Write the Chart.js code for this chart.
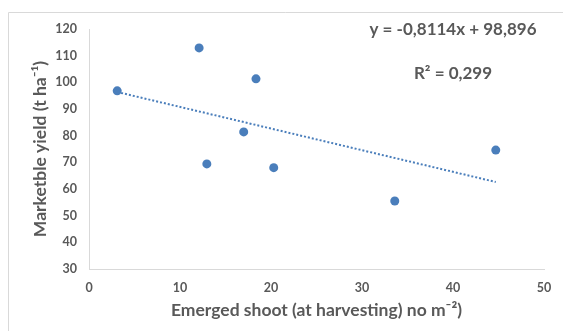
<!DOCTYPE html>
<html>
<head>
<meta charset="utf-8">
<script src="https://cdn.jsdelivr.net/npm/chart.js@4"></script>
<style>
  html, body { margin: 0; padding: 0; background: #fff; }
  #wrap { width: 563px; height: 331px; position: relative; }
</style>
</head>
<body>
<div id="wrap"><canvas id="yieldChart" width="563" height="331"></canvas></div>
<script>
// shoots emerged (no m-2) vs marketable yield (t ha-1)
const shootValues = [3.1, 12.1, 18.35, 17.0, 12.95, 20.3, 33.6, 44.7];
const yieldValues = [96.8, 112.9, 101.3, 81.4, 69.4, 68.0, 55.5, 74.6];
const xTicks = [0, 10, 20, 30, 40, 50];
const yTicks = [30, 40, 50, 60, 70, 80, 90, 100, 110, 120];
const trendSlope = -0.8114;
const trendIntercept = 98.896;
const equationText = 'y = -0,8114x + 98,896';
const r2Text = 'R\u00B2 = 0,299';

const blue = '#4A7EBB';
const grey = '#595959';
const axisGrey = '#D9D9D9';
const fontFamily = 'Lato, "Open Sans", sans-serif';

const points = shootValues.map((x, i) => ({ x: x, y: yieldValues[i] }));
const xMin = Math.min(...shootValues);
const xMax = Math.max(...shootValues);
const trendPoints = [
    { x: xMin, y: trendSlope * xMin + trendIntercept },
    { x: xMax, y: trendSlope * xMax + trendIntercept }
];

// frame lines and the trendline labels
const decorations = {
    id: 'decorations',
    beforeDraw(chart) {
        const c = chart.ctx;
        c.save();
        c.strokeStyle = axisGrey;
        c.lineWidth = 1;
        c.beginPath();
        c.moveTo(8.5, chart.height);
        c.lineTo(8.5, 12.5);
        c.lineTo(chart.width, 12.5);
        c.stroke();
        c.restore();
    },
    afterDraw(chart) {
        const c = chart.ctx;
        c.save();
        c.fillStyle = grey;
        c.font = 'bold 17px ' + fontFamily;
        c.textAlign = 'center';
        c.textBaseline = 'middle';
        c.fillText(equationText, 453, 30);
        c.fillText(r2Text, 453, 74);
        c.restore();
    }
};

new Chart(document.getElementById('yieldChart').getContext('2d'), {
    type: 'scatter',
    data: {
        datasets: [
            {
                label: 'Yield',
                data: points,
                backgroundColor: blue,
                borderWidth: 0,
                pointRadius: 4.5,
                pointHoverRadius: 4.5
            },
            {
                type: 'line',
                label: 'Linear trend',
                data: trendPoints,
                borderColor: blue,
                borderWidth: 2,
                borderDash: [2, 2],
                pointRadius: 0,
                fill: false
            }
        ]
    },
    options: {
        responsive: false,
        animation: false,
        layout: { padding: { top: 29, right: 19, left: 0, bottom: 0 } },
        plugins: {
            legend: { display: false },
            tooltip: { enabled: false }
        },
        scales: {
            x: {
                type: 'linear',
                min: 0,
                max: 50,
                afterBuildTicks: scale => { scale.ticks = xTicks.map(v => ({ value: v })); },
                afterFit: scale => { scale.height = 62; },
                grid: { display: false, drawTicks: false },
                border: { display: true, color: axisGrey, width: 1 },
                ticks: {
                    color: grey,
                    padding: 11,
                    font: { family: fontFamily, size: 12.5, weight: 'bold' }
                },
                title: {
                    display: true,
                    text: 'Emerged shoot (at harvesting) no m\u207B\u00B2)',
                    color: grey,
                    padding: { top: 0, bottom: 10.5 },
                    font: { family: fontFamily, size: 17.5, weight: 'bold' }
                }
            },
            y: {
                min: 30,
                max: 120,
                afterBuildTicks: scale => { scale.ticks = yTicks.map(v => ({ value: v })); },
                afterFit: scale => { scale.width = 89; },
                grid: { display: false, drawTicks: false },
                border: { display: true, color: axisGrey, width: 1 },
                ticks: {
                    color: grey,
                    padding: 12,
                    font: { family: fontFamily, size: 12.5, weight: 'bold' }
                },
                title: {
                    display: true,
                    text: 'Marketble yield (t ha\u207B\u00B9)',
                    color: grey,
                    padding: { top: 29.5, bottom: 0 },
                    font: { family: fontFamily, size: 17.5, weight: 'bold' }
                }
            }
        }
    },
    plugins: [decorations]
});
</script>
</body>
</html>
